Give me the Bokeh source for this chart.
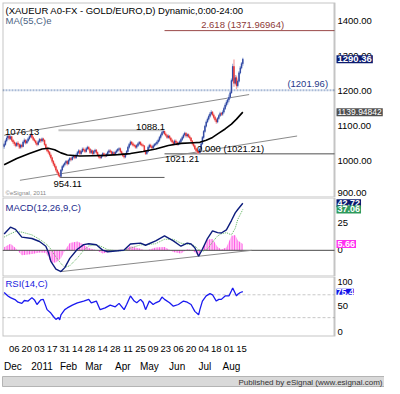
from bokeh.plotting import figure
from bokeh.layouts import column
from bokeh.models import (Range1d, FixedTicker, LinearAxis, Label, BoxAnnotation,
                          ColumnDataSource)
from bokeh.core.properties import value
from bokeh.embed import file_html
from bokeh.resources import INLINE

FONT = "Liberation Sans"

# ---------------- data (trading-day index 0 = 24 Nov 2010) ----------------
first_open = 1042
closes = [1048,1058,1066,1072,1065,1070,1060,1055,1050,1045,
          1052,1048,1040,1046,1042,1055,1060,1052,1058,1064,
          1070,1075,1068,1062,1058,1052,1048,1056,1062,1058,
          1064,1060,1048,1038,1030,1026,1018,1010,1000,992,
          985,975,968,960,957,975,985,990,995,1000,
          993,1003,1008,1005,1012,1015,1010,1018,1025,1030,
          1022,1028,1035,1032,1028,1036,1040,1035,1025,1030,
          1022,1028,1032,1025,1018,1012,1010,1016,1022,1018,
          1015,1020,1026,1030,1028,1022,1025,1020,1026,1030,
          1034,1036,1028,1022,1016,1012,1020,1028,1040,1048,
          1055,1050,1046,1044,1040,1045,1050,1054,1048,1046,
          1044,1030,1022,1028,1040,1046,1042,1038,1044,1048,
          1050,1055,1060,1068,1075,1082,1086,1078,1074,1068,
          1072,1066,1060,1055,1050,1058,1054,1048,1052,1056,
          1062,1068,1075,1080,1072,1076,1070,1066,1058,1050,
          1044,1036,1030,1026,1024,1035,1050,1068,1085,1100,
          1112,1120,1128,1135,1140,1132,1125,1118,1112,1122,
          1130,1136,1134,1140,1150,1160,1168,1175,1182,1195,
          1230,1270,1222,1238,1215,1228,1252,1266,1278,1290.36]
highs = [1053,1062,1071,1076.13,1075,1074,1072,1064,1059,1054,
         1056,1057,1051,1050,1050,1059,1065,1063,1062,1068,
         1074,1079,1078,1071,1066,1061,1056,1060,1066,1065,
         1068,1067,1062,1051,1042,1034,1029,1022,1013,1004,
         996,988,979,972,965,978,989,994,999,1004,
         1003,1007,1012,1012,1016,1019,1018,1022,1029,1034,
         1033,1032,1039,1039,1036,1040,1044,1043,1038,1034,
         1033,1032,1036,1035,1028,1021,1016,1020,1026,1025,
         1022,1024,1030,1034,1034,1031,1029,1028,1030,1034,
         1038,1040,1039,1031,1025,1020,1024,1032,1044,1052,
         1059,1058,1054,1050,1048,1049,1054,1058,1057,1052,
         1050,1046,1033,1032,1044,1050,1050,1046,1048,1052,
         1054,1059,1064,1072,1079,1086,1088.1,1087,1082,1077,
         1076,1075,1069,1064,1059,1062,1062,1057,1056,1060,
         1066,1072,1079,1084,1083,1080,1079,1074,1069,1061,
         1053,1047,1039,1034,1030,1039,1054,1072,1089,1104,
         1116,1125,1133,1140,1145,1143,1136,1129,1122,1126,
         1134,1141,1140,1145,1155,1165,1174,1181,1190,1200,
         1236,1278,1290,1246,1244,1233,1257,1271,1283,1295]
lows = [1036,1044,1054,1061,1060,1061,1056,1050,1044,1040,
        1041,1043,1035,1036,1037,1040,1051,1048,1049,1054,
        1060,1066,1064,1058,1054,1047,1043,1045,1052,1053,
        1054,1055,1044,1034,1026,1021,1013,1005,995,987,
        980,970,963,956,954.11,955,971,981,986,991,
        988,990,999,1000,1002,1008,1006,1007,1015,1021,
        1018,1019,1025,1028,1024,1025,1032,1031,1021,1021,
        1018,1019,1024,1021,1014,1008,1006,1007,1012,1014,
        1011,1012,1016,1022,1024,1018,1018,1016,1017,1022,
        1026,1030,1024,1018,1012,1008,1009,1017,1025,1036,
        1044,1046,1042,1040,1036,1036,1041,1046,1044,1042,
        1040,1026,1018,1019,1025,1036,1038,1034,1035,1040,
        1044,1046,1051,1056,1064,1071,1078,1074,1070,1064,
        1064,1062,1056,1051,1046,1047,1050,1044,1045,1048,
        1052,1058,1064,1071,1068,1068,1066,1062,1054,1046,
        1040,1032,1026,1022,1021.21,1022,1032,1047,1064,1081,
        1096,1108,1116,1124,1131,1128,1120,1113,1107,1108,
        1118,1126,1129,1130,1136,1146,1155,1162,1168,1178,
        1192,1226,1212,1218,1205,1210,1224,1248,1262,1272]

ma_day = [0,10,20,30,35,40,45,50,60,70,80,90,100,110,120,130,140,150,155,160,165,170,175,180,184,189]
ma_val = [990,1008,1022,1035,1037,1033,1024,1018,1015,1016,1017,1019,1022,1028,1035,1045,1051,1053,1054,1060,1068,1080,1092,1106,1120,1139.95]

upper_tl_day = [0, 194]
upper_tl_val = [1074, 1190]
lower_tl_day = [12.5, 232]
lower_tl_val = [946, 1072]

swing_high_1 = 1076.13
swing_low_a, swing_low_a_day = 954.11, 44
swing_high_b, swing_high_b_day = 1088.1, 126
swing_low_c, swing_low_c_day = 1021.21, 154
fib_0 = 1021.21
fib_2618 = 1371.96964
level_1201 = 1201.96
last_close = 1290.36
last_ma = 1139.94842
price_ticks = [900, 1000, 1100, 1200, 1300, 1400]

macd_day = [0,5,9,14,22,28,33,35,37,41,45,48,52,58,63,67,73,78,82,90,95,100,108,112,120,127,134,140,145,148,151,154,157,161,165,169,172,176,180,183,185,189]
macd_val = [14.8,21,19,12,10.7,8,3.7,-1.8,-10,-17,-19.3,-15.7,-7.3,1,5.2,6,5,0.2,-1.3,-0.4,0.2,5.7,6.5,4.6,8.5,13,8.5,3.7,6.5,5.7,2.3,-5.4,1,10.7,17.7,16,15.7,18.5,27,34,37,42.72]
signal_val = [12,15,17,16.5,14,10,6,4,1,-6,-12,-15.5,-14,-7,0,4,5,3,0.5,-0.5,-0.3,2,5,5,6,10,10,6.5,5.5,5.5,4,0.5,-1,1,7.5,13,15,16,14,20,28,37.06]
macd_tl_day = [45, 196]
macd_tl_val = [-19.3, 0]
last_hist = 5.66
macd_ticks = [0, 25]

rsi_day = [0,3,5,9,11,14,16,19,22,24,26,29,31,34,37,39,41,43,44,45,48,50,54,58,63,67,69,73,76,80,
           84,88,91,95,97,100,103,105,108,110,112,115,118,120,123,125,127,131,134,138,142,145,148,151,154,155,157,160,163,165,
           168,170,172,175,178,180,181,184,185,187,189]
rsi_val = [74,68,65,61,57,55,60,59,65,61,53,61,62,44,38,32,27,30,26,35,44,47,52,56,59,62,56,59,44,47,
           52,49,55,44,53,68,59,56,62,57,44,59,53,56,59,66,62,56,50,53,59,57,53,41,35,44,59,68,72,70,
           59,62,62,68,68,77,82,68,71,74,75.4]
rsi_ticks = [0, 50, 100]
rsi_bands = [70, 30]

day_ticks = [8,18,28,38,48,58,68,78,88,98,108,118,128,138,148,158,168,178,188]
day_labels = ["06","20","03","17","31","14","28","14","28","11","25","09","23","06","20","04","18","01","15"]
month_first_day = [5,28,49,69,92,113,135,157,178]
month_labels = ["Dec","2011","Feb","Mar","Apr","May","Jun","Jul","Aug"]

# ---------------- layout helpers ----------------
X0, X1 = -1.3, 261.6          # visible date span of the plotting area
FW_MAIN = 332                 # px of the plotting area
FW_TOTAL = 382                # plotting area + right-hand price scale
PPD = FW_MAIN / (X1 - X0)
X2 = X0 + FW_TOTAL / PPD
FS = "9.5px"
BORDER = "#3c3c3c"

def panel(fh, y0, y1, top, xloc=None):
    p = figure(frame_width=FW_TOTAL, frame_height=fh, x_range=Range1d(X0, X2),
               y_range=Range1d(y0, y1), x_axis_location=xloc, y_axis_location=None,
               output_backend="svg", toolbar_location=None,
               min_border_left=2, min_border_right=0, min_border_top=top, min_border_bottom=0,
               background_fill_color="white", border_fill_color="white")
    p.grid.visible = False
    p.outline_line_color = None
    p.add_layout(BoxAnnotation(left=X0, right=X1, bottom=y0, top=y1, fill_alpha=0,
                               line_color=BORDER, line_width=2))
    return p

def scale_labels(p, ticks, labels, baseline="middle"):
    p.text(x=[X1] * len(ticks), y=ticks, text=labels, x_offset=3,
           text_baseline=baseline, text_align="left",
           text_font=value(FONT), text_font_size=value(FS), text_color="black")

def tag(p, yv, text, bg, size=FS, bold=True, pad=1):
    p.add_layout(Label(x=X1, y=yv, text=text, x_offset=2, text_align="left",
                       text_baseline="middle", text_font=FONT, text_font_size=size,
                       text_font_style="bold" if bold else "normal", text_color="white",
                       background_fill_color=bg, padding=pad))

def note(p, x, y, text, color="black", align="left", base="bottom", xo=0, yo=0, size=FS):
    p.add_layout(Label(x=x, y=y, text=text, text_align=align, text_baseline=base,
                       x_offset=xo, y_offset=yo, text_font=FONT, text_font_size=size,
                       text_color=color))

# ---------------- price panel ----------------
PY0, PY1 = 897, 1452
p1 = panel(195, PY0, PY1, 2)
scale_labels(p1, price_ticks[:1], ["%.2f" % t for t in price_ticks[:1]], "bottom")
scale_labels(p1, price_ticks[1:], ["%.2f" % t for t in price_ticks[1:]], "middle")

days = list(range(len(closes)))
opens = [first_open] + closes[:-1]
up = [c >= o for o, c in zip(opens, closes)]
src = ColumnDataSource(dict(
    day=days, open=opens, close=closes, high=highs, low=lows,
    top=[max(o, c) for o, c in zip(opens, closes)],
    bottom=[min(o, c) for o, c in zip(opens, closes)],
    body=["#253c9c" if u else "#e52a2a" for u in up],
    wick=["#9fb0dc" if u else "#f6a4a4" for u in up]))

p1.line([X0, X1], [level_1201, level_1201], color="#a9bad6", line_width=2, line_dash="2 1")
p1.line([swing_low_a_day - 1, swing_high_b_day], [swing_high_b, swing_high_b], color="#c4c4c4", line_width=2)
p1.line([swing_low_a_day, swing_high_b_day + 1], [swing_low_a, swing_low_a], color="#5a5a5a", line_width=1)
p1.line([swing_high_b_day + 1, X1], [fib_0, fib_0], color="#505050", line_width=1)
p1.line([swing_high_b_day + 1, X1], [fib_2618, fib_2618], color="#9a4a48", line_width=1)
p1.line(upper_tl_day, upper_tl_val, color="#8a8a8a", line_width=1)
p1.line(lower_tl_day, lower_tl_val, color="#8a8a8a", line_width=1)

p1.segment(x0="day", y0="low", x1="day", y1="high", color="wick", line_width=1.3, source=src)
p1.vbar(x="day", width=0.5, top="top", bottom="bottom", fill_color="body",
        line_color="body", line_width=0.6, source=src)
p1.line(ma_day, ma_val, color="black", line_width=1.6)

note(p1, X0, PY1, "(XAUEUR A0-FX - GOLD/EURO,D) Dynamic,0:00-24:00", base="top", xo=3, yo=-2)
note(p1, X0, PY1, "MA(55,C)e", color="#4a6282", base="top", xo=3, yo=-12)
note(p1, X0, PY0, "\u00a9eSignal, 2011", color="#888888", base="bottom", xo=3, yo=2, size="6px")
note(p1, -1, swing_high_1, "1076.13", xo=2)
note(p1, swing_high_b_day + 1.5, swing_high_b, "1088.1", align="right")
note(p1, 39, swing_low_a, "954.11", base="top", yo=-4)
note(p1, swing_low_c_day + 0.5, swing_low_c, "1021.21", align="right", base="top", yo=-2)
note(p1, 152.8, fib_0, "0.000 (1021.21)")
note(p1, 156, fib_2618, "2.618 (1371.96964)", color="#8e3a38", yo=1)
note(p1, 256.5, level_1201, "(1201.96)", color="#1f3a8a", align="right", yo=1)

tag(p1, last_close, "1290.36", "#0b1a6e")
tag(p1, last_ma, "1139.94842", "#505050", size="8.5px", bold=False)

# ---------------- MACD panel ----------------
MY0, MY1 = -23.75, 47.9
p2 = panel(79, MY0, MY1, 0)
hist = [m - s for m, s in zip(macd_val, signal_val)]
p2.varea(x=macd_day, y1=[0] * len(macd_day), y2=hist, fill_color="#ffc4f4",
         hatch_pattern="vertical_line", hatch_color="#ff4ae6", hatch_scale=2.5, hatch_weight=1)
p2.line([X0, X1], [0, 0], color="#4a4a4a", line_width=1)
p2.line(macd_tl_day, macd_tl_val, color="#8a8a8a", line_width=1)
p2.line(macd_day, signal_val, color="#5fb45f", line_width=1, line_dash="1 1")
p2.line(macd_day, macd_val, color="#0c1c7c", line_width=1.4)
scale_labels(p2, macd_ticks, [str(t) for t in macd_ticks], "middle")
note(p2, X0, MY1, "MACD(12,26,9,C)", color="#1c2a8c", base="top", xo=3, yo=-4)
tag(p2, macd_val[-1], "42.72", "#0b1a6e", size="9px")
tag(p2, signal_val[-1], "37.06", "#2e9a5c", size="9px")
tag(p2, last_hist, "5.66", "#ff30f0", size="9px")

# ---------------- RSI panel ----------------
RY0, RY1 = -3, 102
p3 = panel(60, RY0, RY1, 0, xloc="below")
for b in rsi_bands:
    p3.line([X0, X1], [b, b], color="#c8c8c8", line_dash="3 2", line_width=1)
p3.line(rsi_day, rsi_val, color="#1a1af0", line_width=1.3)
note(p3, X1, rsi_ticks[0], str(rsi_ticks[0]), base="bottom", xo=3)
note(p3, X1, rsi_ticks[1], str(rsi_ticks[1]), base="middle", xo=3)
note(p3, X1, rsi_ticks[2], str(rsi_ticks[2]), base="top", xo=3, yo=-1, size="9px")
note(p3, X0, RY1, "RSI(14,C)", color="#1a1ae0", base="top", xo=3, yo=-1)
tag(p3, rsi_val[-1], "75.4", "#1010e8", size="9px", pad=0)

xa = p3.xaxis[0]
xa.ticker = FixedTicker(ticks=day_ticks)
xa.major_label_overrides = {t: s for t, s in zip(day_ticks, day_labels)}
month_pos = [d + 2 for d in month_first_day]
ma2 = LinearAxis(ticker=FixedTicker(ticks=month_pos),
                 major_label_overrides={t: s for t, s in zip(month_pos, month_labels)})
for a in (xa, ma2):
    a.axis_line_color = None
    a.major_tick_line_color = None
    a.minor_tick_line_color = None
    a.major_label_text_font = FONT
    a.major_label_text_color = "black"
xa.major_label_text_font_size = "9.5px"
ma2.major_label_text_font_size = "10px"
xa.major_label_standoff = 3
ma2.major_label_standoff = 0
p3.add_layout(ma2, "below")

# ---------------- footer bar ----------------
pf = figure(frame_width=FW_TOTAL + 2, frame_height=11, x_range=Range1d(0, 1), y_range=Range1d(0, 1),
            x_axis_location=None, y_axis_location=None, output_backend="svg",
            toolbar_location=None, min_border_left=0, min_border_right=0,
            min_border_top=2, min_border_bottom=0,
            background_fill_color="#d9d9d9", border_fill_color="white")
pf.grid.visible = False
pf.outline_line_color = "#b4b4b4"
pf.add_layout(Label(x=1, y=0.5, text="Published by eSignal (www.esignal.com)", x_offset=-4,
                    text_align="right", text_baseline="middle", text_font=FONT,
                    text_font_size="8px", text_color="#333333"))

layout = column(p1, p2, p3, pf, spacing=0)
open("out.html", "w").write(file_html(layout, INLINE))
